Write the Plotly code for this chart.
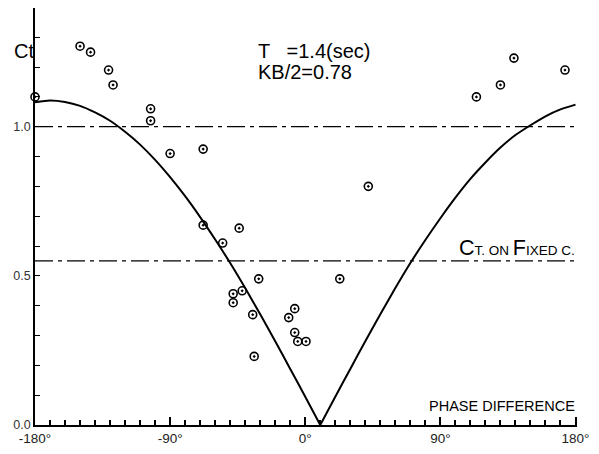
import plotly.graph_objects as go

# ---- data ----
curve_x = [-180, -170, -160, -150, -140, -130, -120, -110, -100, -90, -80, -70, -60, -50, -40, -30, -20, -10, 0, 10,
           20, 30, 40, 50, 60, 70, 80, 90, 100, 110, 120, 130, 140, 150, 160, 170, 180]
curve_y = [1.082, 1.088, 1.083, 1.070, 1.048, 1.020, 0.983, 0.940, 0.889, 0.831, 0.767, 0.697, 0.622, 0.543, 0.459,
           0.371, 0.281, 0.188, 0.095, 0.0,
           0.095, 0.188, 0.281, 0.371, 0.459, 0.543, 0.620, 0.693, 0.762, 0.825, 0.880, 0.930, 0.972, 1.005, 1.035,
           1.058, 1.074]

exp_x = [-180, -150, -143, -131, -128, -103, -103, -90, -68, -68, -44, -55, -31, 23, -48, -42, -48, -35, -7, -11,
         -7, -5, 0.5, -34, 42, 114, 130, 139, 173]
exp_y = [1.10, 1.27, 1.25, 1.19, 1.14, 1.06, 1.02, 0.91, 0.925, 0.67, 0.66, 0.61, 0.49, 0.49, 0.44, 0.45, 0.41,
         0.37, 0.39, 0.36, 0.31, 0.28, 0.28, 0.23, 0.80, 1.10, 1.14, 1.23, 1.19]

ref_levels = [1.0, 0.55]

x_major = [-180, -90, 0, 90, 180]
x_major_text = ["-180°", "-90°", "0°", "90°", "180°"]
y_major = [0.0, 0.5, 1.0]
y_major_text = ["0.0", "0.5", "1.0"]

X_RANGE = [-180, 181]
Y_RANGE = [0, 1.398]

fig = go.Figure()

# reference (dash-dot) lines
for lv in ref_levels:
    fig.add_trace(go.Scatter(x=X_RANGE, y=[lv, lv], mode="lines",
                             line=dict(color="black", width=1.2, dash="18px,5px,4px,5px"),
                             showlegend=False, hoverinfo="skip"))

# theoretical curve, split at the vertex so each branch is smooth
iv = curve_y.index(min(curve_y))
for xs, ys in [(curve_x[:iv + 1], curve_y[:iv + 1]), (curve_x[iv:], curve_y[iv:])]:
    fig.add_trace(go.Scatter(x=xs, y=ys, mode="lines",
                             line=dict(color="black", width=2, shape="spline", smoothing=0.6),
                             showlegend=False, hoverinfo="skip"))

# experimental points
fig.add_trace(go.Scatter(x=exp_x, y=exp_y, mode="markers",
                         marker=dict(symbol="circle-open-dot", size=8, color="black",
                                     line=dict(color="black", width=1.6)),
                         cliponaxis=False, showlegend=False))

FONT = "Liberation Sans"

fig.update_layout(
    width=599, height=454,
    margin=dict(l=35, r=22, t=8, b=25),
    paper_bgcolor="white", plot_bgcolor="white",
    font=dict(family=FONT, color="#222"),
    xaxis=dict(range=X_RANGE, showgrid=False, zeroline=False,
               showline=True, linecolor="black", linewidth=1.5, layer="above traces",
               tickmode="array", tickvals=x_major, ticktext=x_major_text,
               ticks="inside", ticklen=8, tickwidth=1.5, tickcolor="black",
               tickfont=dict(size=13.5, color="#222", family=FONT),
               minor=dict(tickmode="linear", tick0=-180, dtick=10, ticks="inside",
                          ticklen=5, tickwidth=1.5, tickcolor="black", showgrid=False)),
    yaxis=dict(range=Y_RANGE, showgrid=False, zeroline=False,
               showline=True, linecolor="black", linewidth=1.5, layer="above traces",
               tickmode="array", tickvals=y_major, ticktext=y_major_text,
               ticks="inside", ticklen=5, tickwidth=1.4, tickcolor="black",
               tickfont=dict(size=12.5, color="#333", family=FONT),
               minor=dict(tickmode="linear", tick0=0, dtick=0.1, ticks="inside",
                          ticklen=5, tickwidth=1.4, tickcolor="black", showgrid=False)),
)

def px2paper(px, py):
    return (px - 35) / 542.0, (429.0 - py) / 421.0

annots = [
    dict(text="Ct", pos=(12, 51), size=20, xanchor="left"),
    dict(text="T   =1.4(sec)", pos=(256, 51), size=20, xanchor="left"),
    dict(text="KB/2=0.78", pos=(256, 73), size=20, xanchor="left"),
    dict(text="PHASE DIFFERENCE", pos=(577, 410), size=14.5, xanchor="right"),
    dict(text="C<span style='font-size:13.5px'>T. ON </span>F<span style='font-size:13.5px'>IXED C.</span>",
         pos=(577, 250), size=21.5, xanchor="right"),
]
for a in annots:
    xp, yp = px2paper(*a["pos"])
    fig.add_annotation(x=xp, y=yp, xref="paper", yref="paper", text=a["text"], showarrow=False,
                       xanchor=a["xanchor"], yanchor="middle",
                       font=dict(family=FONT, size=a["size"], color="black"))

fig.write_html("out.html")
